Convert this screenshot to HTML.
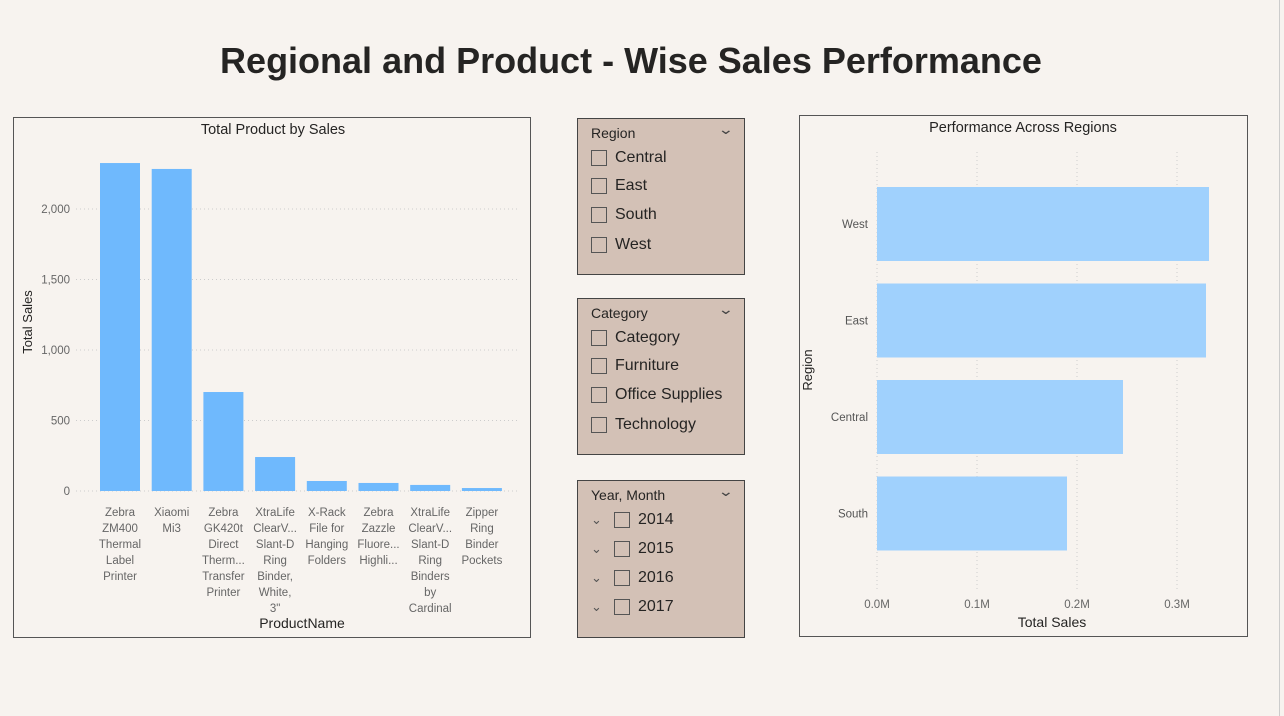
<!DOCTYPE html>
<html><head><meta charset="utf-8"><style>
body{margin:0;width:1284px;height:716px;background:#f7f3ef;font-family:"Liberation Sans",sans-serif;overflow:hidden;position:relative}
.abs{position:absolute}
.title{left:0;width:1262px;top:40px;text-align:center;font-size:36px;font-weight:bold;color:#252423}
.panel{border:1.5px solid #555;box-sizing:border-box}
.slicer{background:#d3c1b6;border:1.5px solid #444;box-sizing:border-box}
.sh{position:absolute;left:13px;top:6px;font-size:14px;color:#252423}
.chev{position:absolute;right:12px;top:2px;font-size:14px;color:#444;transform:scaleX(1.4)}
.item{position:absolute;left:13px;font-size:16px;color:#252423;display:flex;align-items:center}
.box{width:16px;height:16px;border:1px solid #555;margin-right:8px;box-sizing:border-box}
svg text{font-family:"Liberation Sans",sans-serif}
</style></head><body>
<div class="abs title">Regional and Product - Wise Sales Performance</div>
<div class="abs" style="left:1279px;top:0;width:1px;height:716px;background:#ccc"></div>

<div class="abs panel" style="left:13px;top:117px;width:518px;height:521px"></div>
<svg class="abs" id="left" style="left:0;top:0" width="545" height="650"></svg>

<div class="abs panel" style="left:799px;top:115px;width:449px;height:522px"></div>
<svg class="abs" id="right" style="left:790px;top:0" width="470" height="650"></svg>

<div class="abs slicer" style="left:577px;top:118px;width:168px;height:157px">
<div class="sh">Region</div><div class="chev">&#8964;</div>
<div class="item" style="top:30px"><div class="box"></div>Central</div>
<div class="item" style="top:58px"><div class="box"></div>East</div>
<div class="item" style="top:87px"><div class="box"></div>South</div>
<div class="item" style="top:117px"><div class="box"></div>West</div>
</div>
<div class="abs slicer" style="left:577px;top:298px;width:168px;height:157px">
<div class="sh">Category</div><div class="chev">&#8964;</div>
<div class="item" style="top:30px"><div class="box"></div>Category</div>
<div class="item" style="top:58px"><div class="box"></div>Furniture</div>
<div class="item" style="top:87px"><div class="box"></div>Office Supplies</div>
<div class="item" style="top:117px"><div class="box"></div>Technology</div>
</div>
<div class="abs slicer" style="left:577px;top:480px;width:168px;height:158px">
<div class="sh">Year, Month</div><div class="chev">&#8964;</div>
<div class="item" style="top:30px"><span style="font-size:13px;color:#555;width:23px">&#8964;</span><div class="box"></div>2014</div>
<div class="item" style="top:59px"><span style="font-size:13px;color:#555;width:23px">&#8964;</span><div class="box"></div>2015</div>
<div class="item" style="top:88px"><span style="font-size:13px;color:#555;width:23px">&#8964;</span><div class="box"></div>2016</div>
<div class="item" style="top:117px"><span style="font-size:13px;color:#555;width:23px">&#8964;</span><div class="box"></div>2017</div>
</div>

<script>
const products=[["Zebra","ZM400","Thermal","Label","Printer"],["Xiaomi","Mi3"],["Zebra","GK420t","Direct","Therm...","Transfer","Printer"],["XtraLife","ClearV...","Slant-D","Ring","Binder,","White,","3\""],["X-Rack","File for","Hanging","Folders"],["Zebra","Zazzle","Fluore...","Highli..."],["XtraLife","ClearV...","Slant-D","Ring","Binders","by","Cardinal"],["Zipper","Ring","Binder","Pockets"]];
const productSales=[2326,2284,702,241,71,57,43,21];
const yTicks=[0,500,1000,1500,2000];
const regions=["West","East","Central","South"];
const regionSales=[0.332,0.329,0.246,0.19];
const xTicks=[0,0.1,0.2,0.3];
const NS="http://www.w3.org/2000/svg";
function mk(svg,t,a,txt){const e=document.createElementNS(NS,t);for(const k in a)e.setAttribute(k,a[k]);if(txt!=null)e.textContent=txt;svg.appendChild(e);return e;}
// left
const L=document.getElementById('left');
const y=v=>491-v*0.141, bx=i=>120+i*51.7;
let e=mk(L,'text',{x:273,y:134,'text-anchor':'middle','font-size':14.5,fill:'#252423'},'Total Product by Sales');

yTicks.forEach(t=>{
 let g=mk(L,'line',{x1:76,x2:518,y1:y(t),y2:y(t),stroke:'#ccc','stroke-dasharray':'1,3'});
 
 let l=mk(L,'text',{x:70,y:y(t)+4,'text-anchor':'end','font-size':11.5,fill:'#666'},t.toLocaleString('en-US'));
 
});
e=mk(L,'text',{x:32,y:322,'text-anchor':'middle','font-size':13,fill:'#252423',transform:'rotate(-90 32 322)'},'Total Sales');

productSales.forEach((v,i)=>{
 let r=mk(L,'rect',{x:bx(i)-20,y:y(v),width:40,height:491-y(v),fill:'#6fb9fd'});
 
 let t=mk(L,'text',{'text-anchor':'middle','font-size':11.5,fill:'#666'});
 
 products[i].forEach((s,j)=>{mk(t,'tspan',{x:bx(i),y:516+j*16},s);});
});
e=mk(L,'text',{x:302,y:628,'text-anchor':'middle','font-size':14,fill:'#252423'},'ProductName');

// right
const R=document.getElementById('right');
const xs=v=>87+v*1000, ry=i=>187+i*96.5;
e=mk(R,'text',{x:233,y:132,'text-anchor':'middle','font-size':14.5,fill:'#252423'},'Performance Across Regions');

xTicks.forEach(t=>{
 let g=mk(R,'line',{x1:xs(t),x2:xs(t),y1:152,y2:590,stroke:'#ccc','stroke-dasharray':'1,3'});
 
 let l=mk(R,'text',{x:xs(t),y:608,'text-anchor':'middle','font-size':11.5,fill:'#666'},t.toFixed(1)+'M');
 
});
regionSales.forEach((v,i)=>{
 let r=mk(R,'rect',{x:87,y:ry(i),width:xs(v)-87,height:74,fill:'#a0d1fd'});
 
 let l=mk(R,'text',{x:78,y:ry(i)+41,'text-anchor':'end','font-size':11.5,fill:'#555'},regions[i]);
 
});
e=mk(R,'text',{x:22,y:370,'text-anchor':'middle','font-size':13,fill:'#252423',transform:'rotate(-90 22 370)'},'Region');

e=mk(R,'text',{x:262,y:627,'text-anchor':'middle','font-size':14,fill:'#252423'},'Total Sales');

</script>
</body></html>
